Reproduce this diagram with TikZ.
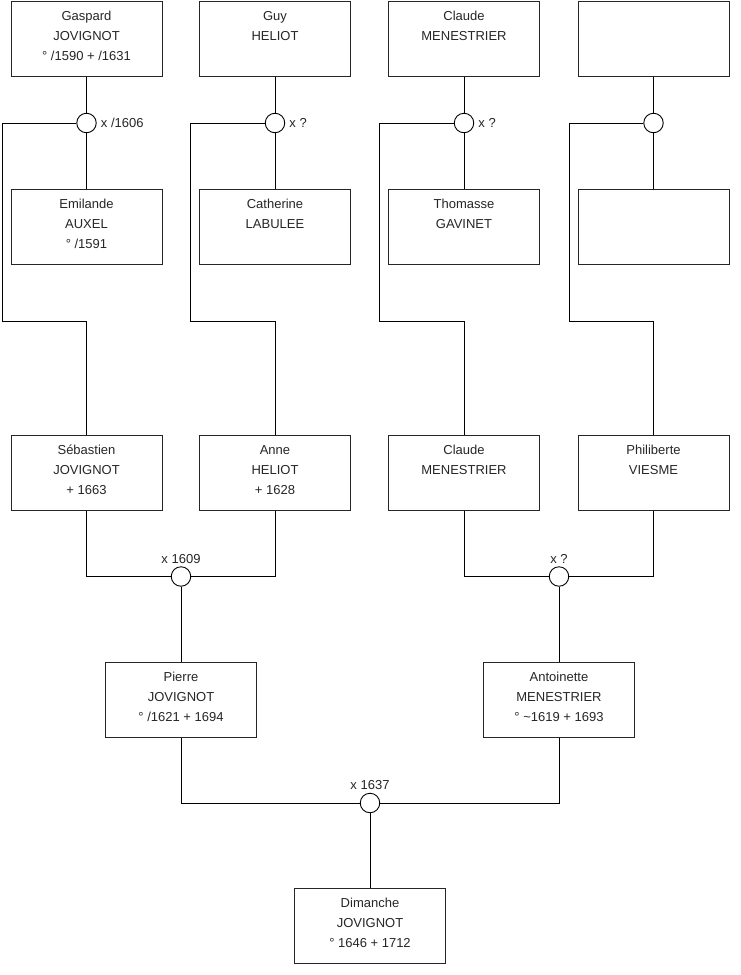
\documentclass[tikz,border=0pt]{standalone}
\usepackage{fontspec}
\setmainfont{Liberation Sans}
\begin{document}
\begin{tikzpicture}[x=1pt,y=-1pt,
  box/.style={draw=black!85,line width=0.9pt,rectangle,minimum width=151pt,minimum height=75pt,anchor=north,inner sep=0pt},
  btext/.style={anchor=north,inner sep=0pt,yshift=-10pt,align=center,font=\fontsize{13}{20}\selectfont,text=black!85},
  union/.style={draw=black,line width=0.9pt,circle,fill=white,minimum size=19.5pt,inner sep=0pt},
  lnk/.style={draw=black,line width=0.9pt},
  ulab/.style={inner sep=0pt,font=\fontsize{13}{16}\selectfont,text=black!85}]
\useasboundingbox (0,0) rectangle (740,975);
\fill[white] (0,0) rectangle (740,975);

% row 1
\node[box,label={[btext]north:Gaspard\\JOVIGNOT\\° /1590 + /1631}] (gas) at (86.5,1) {};
\node[box,label={[btext]north:Guy\\HELIOT}] (guy) at (275,1) {};
\node[box,label={[btext]north:Claude\\MENESTRIER}] (cla1) at (464,1) {};
\node[box] (unk1) at (653.5,1) {};
% row 2
\node[box,label={[btext]north:Emilande\\AUXEL\\° /1591}] (emi) at (86.5,189) {};
\node[box,label={[btext]north:Catherine\\LABULEE}] (cat) at (275,189) {};
\node[box,label={[btext]north:Thomasse\\GAVINET}] (tho) at (464,189) {};
\node[box] (unk2) at (653.5,189) {};
% row 3
\node[box,label={[btext]north:Sébastien\\JOVIGNOT\\+ 1663}] (seb) at (86.5,435) {};
\node[box,label={[btext]north:Anne\\HELIOT\\+ 1628}] (ann) at (275,435) {};
\node[box,label={[btext]north:Claude\\MENESTRIER}] (cla2) at (464,435) {};
\node[box,label={[btext]north:Philiberte\\VIESME}] (phi) at (653.5,435) {};
% row 4
\node[box,label={[btext]north:Pierre\\JOVIGNOT\\° /1621 + 1694}] (pie) at (181,662) {};
\node[box,label={[btext]north:Antoinette\\MENESTRIER\\° \textasciitilde1619 + 1693}] (ant) at (559,662) {};
% row 5
\node[box,label={[btext]north:Dimanche\\JOVIGNOT\\° 1646 + 1712}] (dim) at (370,888) {};

% union circles
\node[union] (u1) at (86.5,123) {};
\node[union] (u2) at (275,123) {};
\node[union] (u3) at (464,123) {};
\node[union] (u4) at (653.5,123) {};
\node[union] (u5) at (181,576.5) {};
\node[union] (u6) at (559,576.5) {};
\node[union] (u7) at (370,803) {};

% corner coordinates
\coordinate (k1) at (2,321);
\coordinate (k2) at (190.5,321);
\coordinate (k3) at (379,321);
\coordinate (k4) at (569,321);

% connectors
\draw[lnk] (gas.south) -- (u1.north);
\draw[lnk] (u1.south) -- (emi.north);
\draw[lnk] (guy.south) -- (u2.north);
\draw[lnk] (u2.south) -- (cat.north);
\draw[lnk] (cla1.south) -- (u3.north);
\draw[lnk] (u3.south) -- (tho.north);
\draw[lnk] (unk1.south) -- (u4.north);
\draw[lnk] (u4.south) -- (unk2.north);

\draw[lnk] (u1.west) -| (k1) -| (seb.north);
\draw[lnk] (u2.west) -| (k2) -| (ann.north);
\draw[lnk] (u3.west) -| (k3) -| (cla2.north);
\draw[lnk] (u4.west) -| (k4) -| (phi.north);

\draw[lnk] (seb.south) |- (u5.west);
\draw[lnk] (ann.south) |- (u5.east);
\draw[lnk] (u5.south) -- (pie.north);
\draw[lnk] (cla2.south) |- (u6.west);
\draw[lnk] (phi.south) |- (u6.east);
\draw[lnk] (u6.south) -- (ant.north);
\draw[lnk] (pie.south) |- (u7.west);
\draw[lnk] (ant.south) |- (u7.east);
\draw[lnk] (u7.south) -- (dim.north);

% union labels
\node[ulab,anchor=mid west,xshift=4pt,yshift=-1.5pt] (l1) at (u1.east) {x /1606};
\node[ulab,anchor=mid west,xshift=4pt,yshift=-1.5pt] (l2) at (u2.east) {x ?};
\node[ulab,anchor=mid west,xshift=4pt,yshift=-1.5pt] (l3) at (u3.east) {x ?};
\node[ulab,anchor=base,yshift=3pt] (l5) at (u5.north) {x 1609};
\node[ulab,anchor=base,yshift=3pt] (l6) at (u6.north) {x ?};
\node[ulab,anchor=base,yshift=3pt] (l7) at (u7.north) {x 1637};
\end{tikzpicture}
\end{document}
